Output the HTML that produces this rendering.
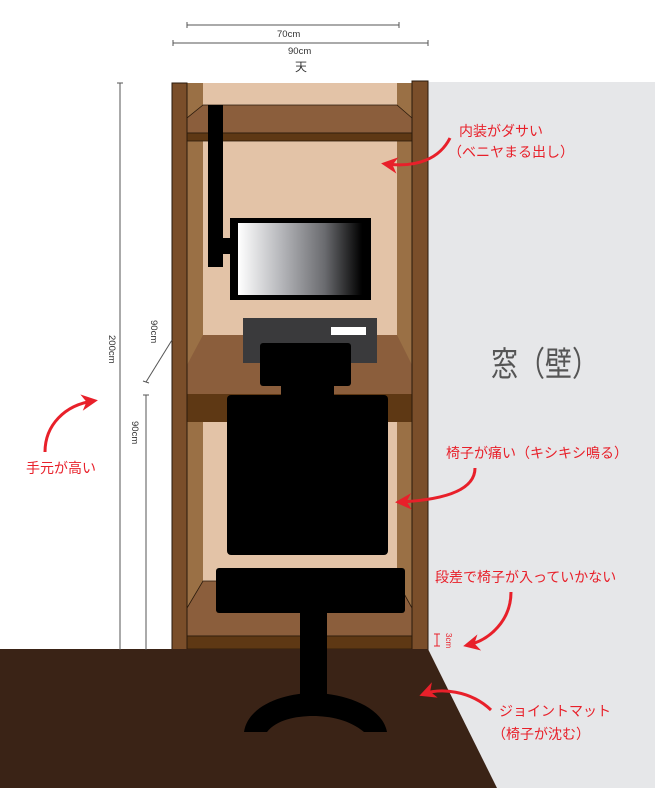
<!DOCTYPE html>
<html><head><meta charset="utf-8"><style>
html,body{margin:0;padding:0;background:#fff;}
svg{display:block;font-family:"Liberation Sans","Noto Sans CJK JP",sans-serif;}
</style></head><body>
<svg width="655" height="788" viewBox="0 0 655 788" xmlns="http://www.w3.org/2000/svg">
<defs>
<linearGradient id="scr" x1="0" x2="1" y1="0" y2="0">
<stop offset="0" stop-color="#fff"/><stop offset="0.35" stop-color="#b5b6ba"/><stop offset="0.7" stop-color="#6a6b6f"/><stop offset="1" stop-color="#000"/>
</linearGradient>
<marker id="ah" viewBox="0 0 10 10" refX="7" refY="5" markerWidth="5.5" markerHeight="5.5" orient="auto"><path d="M0,0 L10,5 L0,10 L3,5 z" fill="#e8202a"/></marker>
</defs>
<polygon points="428,82 655,82 655,788 497,788 428,649" fill="#e6e7e9"/>
<rect x="187" y="83" width="225" height="567" fill="#e3c3a7"/>
<rect x="187" y="83" width="16" height="567" fill="#9a7045"/>
<rect x="397" y="83" width="15" height="567" fill="#9a7045"/>
<polygon points="203,105 397,105 412,118 412,133 187,133 187,118" fill="#8b5e3c" stroke="#2a1a0c" stroke-width="0.8"/>
<rect x="187" y="133" width="225" height="8" fill="#5e3814" stroke="#2a1a0c" stroke-width="0.8"/>
<polygon points="203,335 397,335 412,365 412,394 187,394 187,365" fill="#8b5e3c"/>
<rect x="187" y="394" width="225" height="28" fill="#5e3814"/>
<polygon points="203,581 397,581 412,608 412,636 187,636 187,608" fill="#8b5e3c" stroke="#2a1a0c" stroke-width="0.8"/>
<rect x="187" y="636" width="225" height="13" fill="#5e3814" stroke="#2a1a0c" stroke-width="0.8"/>
<rect x="172" y="83" width="15" height="567" fill="#7a4e2a" stroke="#2a1a0c" stroke-width="1"/>
<rect x="412" y="81" width="16" height="569" fill="#7a4e2a" stroke="#2a1a0c" stroke-width="1"/>
<rect x="208" y="105" width="15" height="162" fill="#000"/>
<rect x="222" y="238" width="16" height="16" fill="#000"/>
<rect x="230" y="218" width="141" height="82" fill="#000"/>
<rect x="238" y="223" width="124" height="72" fill="url(#scr)"/>
<rect x="243" y="318" width="134" height="45" fill="#3a3a3c"/>
<rect x="331" y="327" width="35" height="8" fill="#fff"/>
<polygon points="0,649 428,649 497,788 0,788" fill="#3a2316"/>
<rect x="260" y="343" width="91" height="43" rx="3" fill="#000"/>
<rect x="281" y="384" width="53" height="14" fill="#000"/>
<rect x="227" y="395" width="161" height="160" rx="4" fill="#000"/>
<rect x="216" y="568" width="189" height="45" rx="3" fill="#000"/>
<rect x="300" y="612" width="27" height="84" fill="#000"/>
<path d="M244,732 C248,705 285,693 313,693 C341,693 382,705 387,732 L364,732 C350,720 330,716 313,716 C296,716 276,720 267,732 Z" fill="#000"/>
<g stroke="#555" stroke-width="1" fill="none">
<line x1="187" y1="25" x2="399" y2="25"/><line x1="187" y1="22" x2="187" y2="28"/><line x1="399" y1="22" x2="399" y2="28"/>
<line x1="173" y1="43" x2="428" y2="43"/><line x1="173" y1="40" x2="173" y2="46"/><line x1="428" y1="40" x2="428" y2="46"/>
<line x1="120" y1="83" x2="120" y2="650"/><line x1="117" y1="83" x2="123" y2="83"/>
<line x1="172" y1="340" x2="146" y2="382"/><line x1="143" y1="381" x2="149" y2="383"/>
<line x1="146" y1="395" x2="146" y2="650"/><line x1="143" y1="395" x2="149" y2="395"/>
</g>
<g fill="#333" font-size="9.5">
<text x="277" y="37">70cm</text>
<text x="288" y="54">90cm</text>
<text x="295" y="71" font-size="12">天</text>
<text transform="translate(109,335) rotate(90)">200cm</text>
<text transform="translate(151,320) rotate(90)">90cm</text>
<text transform="translate(132,421) rotate(90)">90cm</text>
</g>
<g stroke="#e8202a" stroke-width="1"><line x1="437" y1="634" x2="437" y2="646"/><line x1="434" y1="634" x2="440" y2="634"/><line x1="434" y1="646" x2="440" y2="646"/></g>
<text transform="translate(446,633) rotate(90)" font-size="8" fill="#e8202a">3cm</text>
<g stroke="#e8202a" stroke-width="3" fill="none" marker-end="url(#ah)">
<path d="M450,138 C440,158 418,168 386,164"/>
<path d="M45,452 C45,425 65,405 93,401"/>
<path d="M475,468 C475,492 440,500 400,502"/>
<path d="M511,592 C511,620 490,640 468,645"/>
<path d="M491,710 C470,690 440,688 424,694"/>
</g>
<g fill="#e8202a" font-size="14">
<text x="459" y="136">内装がダサい</text>
<text x="448" y="157">（ベニヤまる出し）</text>
<text x="26" y="473">手元が高い</text>
<text x="446" y="458">椅子が痛い（キシキシ鳴る）</text>
<text x="435" y="582">段差で椅子が入っていかない</text>
<text x="499" y="716">ジョイントマット</text>
<text x="492" y="739">（椅子が沈む）</text>
</g>
<text x="491" y="376" font-size="34" fill="#555" textLength="108" lengthAdjust="spacingAndGlyphs">窓（壁）</text>
</svg>
</body></html>
